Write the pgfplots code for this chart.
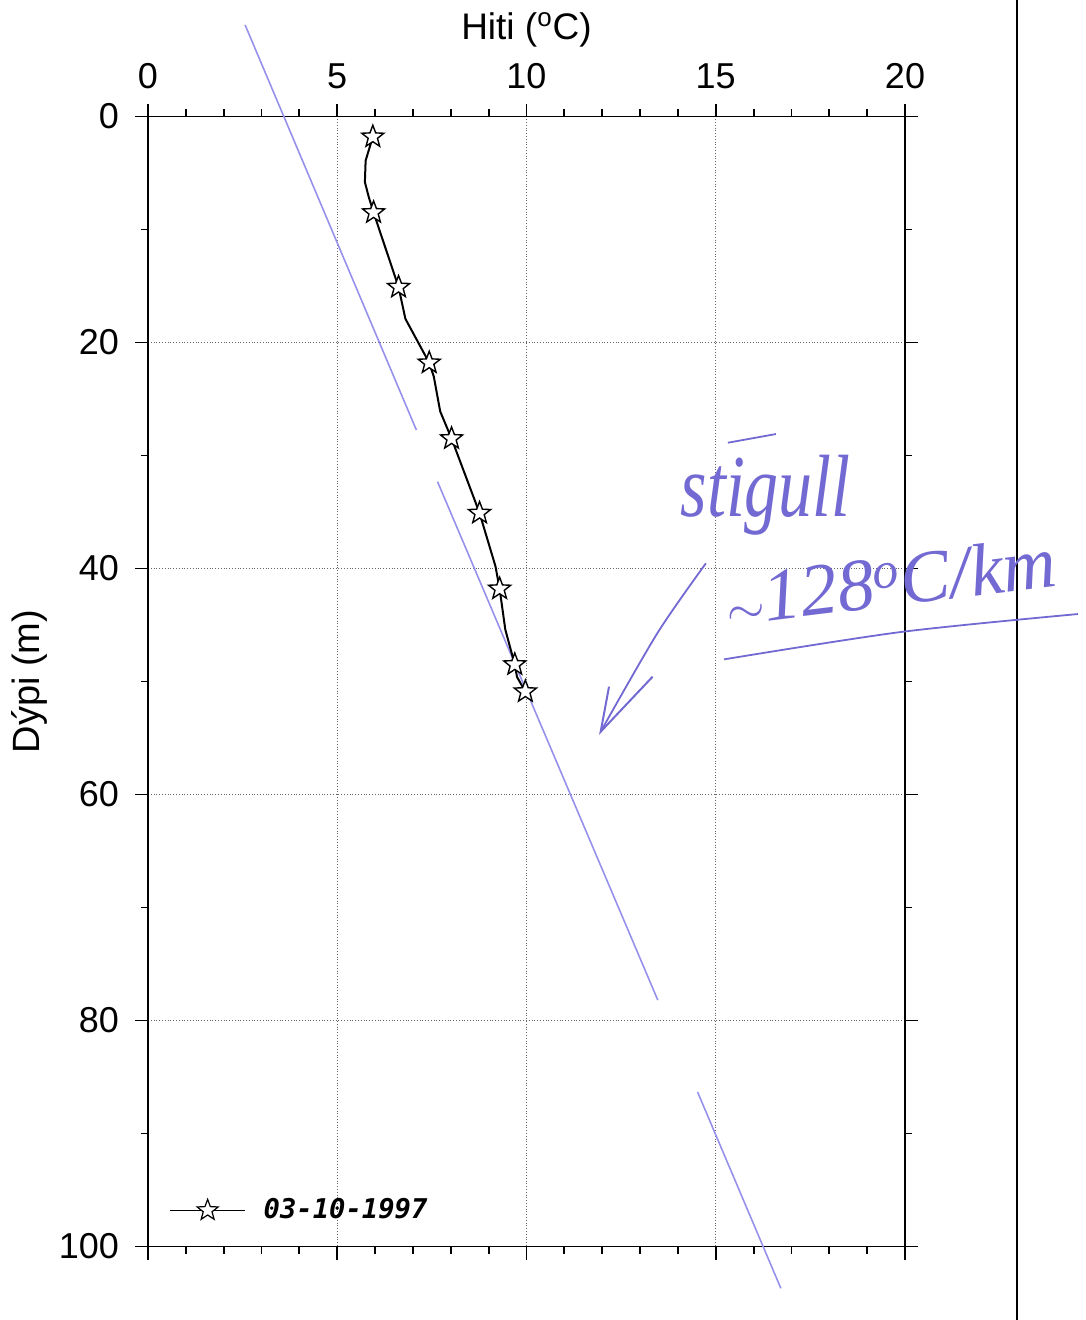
\documentclass[border=0pt]{standalone}
\usepackage{fontspec}
\setmainfont{Liberation Sans}
\newfontfamily\monofont{DejaVu Sans Mono}
\newfontfamily\handfont{Liberation Serif}
\usepackage{pgfplots}
\usepackage{pgfplotstable}
\pgfplotsset{compat=1.18}
\usetikzlibrary{plotmarks}
\definecolor{ink}{RGB}{115,105,210}
\definecolor{inkline}{RGB}{150,145,235}

\pgfdeclareplotmark{ostar}{%
  \pgfpathmoveto{\pgfpointpolar{90}{\pgfplotmarksize}}%
  \pgfpathlineto{\pgfpointpolar{126}{0.42\pgfplotmarksize}}%
  \pgfpathlineto{\pgfpointpolar{162}{\pgfplotmarksize}}%
  \pgfpathlineto{\pgfpointpolar{198}{0.42\pgfplotmarksize}}%
  \pgfpathlineto{\pgfpointpolar{234}{\pgfplotmarksize}}%
  \pgfpathlineto{\pgfpointpolar{270}{0.42\pgfplotmarksize}}%
  \pgfpathlineto{\pgfpointpolar{306}{\pgfplotmarksize}}%
  \pgfpathlineto{\pgfpointpolar{342}{0.42\pgfplotmarksize}}%
  \pgfpathlineto{\pgfpointpolar{18}{\pgfplotmarksize}}%
  \pgfpathlineto{\pgfpointpolar{54}{0.42\pgfplotmarksize}}%
  \pgfpathclose
  \pgfusepathqfillstroke}

\pgfplotstableread{
x y
5.94 1.8
5.75 3.9
5.73 5.8
5.83 7.1
5.96 8.5
6.62 15.1
6.80 17.9
7.43 21.8
7.55 23.0
7.72 26.1
8.02 28.5
8.76 35.1
9.18 39.8
9.29 41.8
9.44 45.4
9.69 48.5
9.75 49.6
9.97 50.9
}\profile

\pgfplotstableread{
x y
5.94 1.8
5.96 8.5
6.62 15.1
7.43 21.8
8.02 28.5
8.76 35.1
9.29 41.8
9.69 48.5
9.97 50.9
}\stars

\begin{document}
\begin{tikzpicture}
\path[use as bounding box] (-74pt,-36.75pt) rectangle (468.5pt,623.25pt);
\begin{axis}[
  at={(0pt,0pt)}, anchor=south west,
  width=378.5pt, height=565pt, scale only axis,
  xmin=0, xmax=20, ymin=0, ymax=100, y dir=reverse,
  xtick={0,5,...,20}, ytick={0,20,...,100},
  minor x tick num=4, minor y tick num=1,
  xticklabel pos=upper,
  tick align=outside,
  major tick length=6.5pt, minor tick length=3.5pt,
  grid=major,
  major grid style={densely dotted, black!60, line width=0.5pt},
  axis line style={line width=0.9pt},
  tick style={line width=0.9pt, black},
  ticklabel style={font=\fontsize{18}{21}\selectfont},
  xticklabel style={yshift=4pt},
  yticklabel style={xshift=-4.5pt},
  /pgf/number format/assume math mode=true,
  xlabel={Hiti (\textsuperscript{o}C)},
  ylabel={Dýpi (m)},
  xlabel style={font=\fontsize{18.5}{22}\selectfont, at={(axis description cs:0.5,1.077)}, anchor=center},
  ylabel style={font=\fontsize{19}{22}\selectfont, at={(axis description cs:-0.156,0.5)}, anchor=center},
  clip=false,
  legend style={at={(axis cs:0.4,96.8)}, anchor=west, draw=none, fill=none,
    font=\fontsize{13.6}{15}\monofont\bfseries\itshape},
  legend image code/.code={\draw[mark repeat=2,mark phase=2,#1] plot coordinates {(0pt,0pt) (18.75pt,0pt) (37.5pt,0pt)};},
]
% hand-drawn guide lines
\addplot[inkline, line width=0.8pt, forget plot] coordinates {(2.566,-8.1) (7.09,27.74)};
\addplot[inkline, line width=0.8pt, forget plot] coordinates {(7.65,32.32) (13.47,78.2)};
\addplot[inkline, line width=0.8pt, forget plot] coordinates {(14.52,86.33) (16.72,103.7)};
% page border line
\addplot[black, line width=0.8pt, forget plot] coordinates {(22.96,-12) (22.96,110)};
% profile
\addplot[black, line width=1pt, forget plot] table {\profile};
\addplot[only marks, mark=ostar, mark size=5.8pt, mark options={fill=white, draw=black, line width=0.7pt}, forget plot] table {\stars};
\addlegendimage{black, line width=0.6pt, mark=ostar, mark size=5.5pt, mark options={fill=white, draw=black, solid}}
\addlegendentry{\hspace{7pt}03-10-1997}
% handwriting
\addplot[ink, line width=0.9pt, smooth, forget plot] coordinates {(14.74,39.54) (13.46,45.71) (11.96,54.44)};
\addplot[ink, line width=1pt, forget plot] coordinates {(12.18,50.46) (11.96,54.44) (13.33,49.58)};
\addplot[ink, line width=0.9pt, smooth, forget plot] coordinates {(15.22,48.04) (19.89,45.62) (24.57,44.03)};
\addplot[ink, line width=0.9pt, forget plot] coordinates {(15.32,28.87) (16.59,28.1)};
\node[ink, anchor=base, yscale=1.3, font=\fontsize{34}{40}\handfont\itshape] at (axis cs:16.32,35.4) {stigull};
\node[ink, anchor=base, rotate=7, font=\fontsize{37}{42}\handfont\itshape] at (axis cs:19.7,43.3) {$\sim$128\textsuperscript{o}C/km};
\end{axis}
\end{tikzpicture}
\end{document}
